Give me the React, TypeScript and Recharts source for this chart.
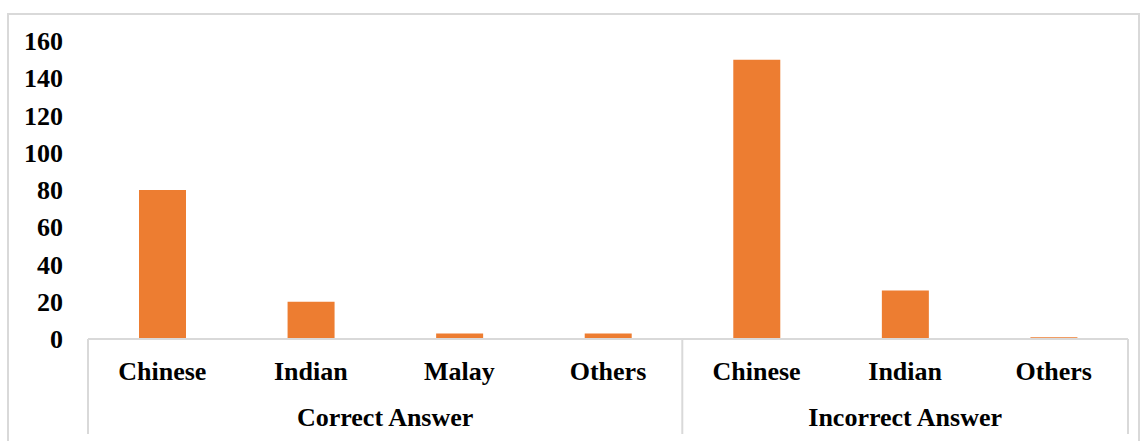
import React from "react";
import { BarChart, Bar, XAxis, YAxis } from "recharts";

const categories = ["Chinese", "Indian", "Malay", "Others", "Chinese", "Indian", "Others"];
const groups = ["Correct Answer", "Correct Answer", "Correct Answer", "Correct Answer", "Incorrect Answer", "Incorrect Answer", "Incorrect Answer"];
const counts = [80, 20, 3, 3, 150, 26, 1];
const yTicks = [0, 20, 40, 60, 80, 100, 120, 140, 160];

const data = categories.map((c, i) => ({ key: `${groups[i]}|${c}|${i}`, name: c, group: groups[i], value: counts[i] }));

const W = 1144;
const H = 441;
const M = { top: 41, right: 16, left: 0, bottom: 0 };
const Y_W = 88;
const X_H = 102;
const FONT = "'Liberation Serif', 'Times New Roman', serif";
const LINE = "#d9d9d9";
const band = (W - Y_W - M.right) / data.length;

const XTick = (props: any) => {
  const { x, y, index } = props;
  const d = data[index];
  if (!d) return null;
  const left = x - band / 2;
  const isFirst = index === 0 || data[index - 1].group !== d.group;
  const isLast = index === data.length - 1;
  const axisY = y - 14;
  const els: React.ReactNode[] = [];
  els.push(
    <text key="c" x={x} y={axisY + 41} textAnchor="middle" fontFamily={FONT} fontWeight="bold" fontSize={26} fill="#000">
      {d.name}
    </text>
  );
  if (isFirst) {
    const n = data.filter((e) => e.group === d.group).length;
    els.push(<line key="l" x1={left} x2={left} y1={axisY} y2={axisY + 95} stroke={LINE} strokeWidth={2} />);
    els.push(
      <text key="g" x={left + (n * band) / 2} y={axisY + 87} textAnchor="middle" fontFamily={FONT} fontWeight="bold" fontSize={26} fill="#000">
        {d.group}
      </text>
    );
  }
  if (isLast) {
    const right = x + band / 2;
    els.push(<line key="r" x1={right} x2={right} y1={axisY} y2={axisY + 95} stroke={LINE} strokeWidth={2} />);
  }
  return <g>{els}</g>;
};

export default function App() {
  return (
    <div style={{ position: "absolute", left: 0, top: 0, width: W, height: H, background: "#fff", overflow: "hidden" }}>
      <div style={{ position: "absolute", left: 7, top: 13, width: 1133, height: 460, border: `2px solid ${LINE}`, boxSizing: "border-box" }} />
      <div style={{ position: "absolute", left: 0, top: 0 }}>
        <BarChart width={W} height={H} data={data} margin={M} barCategoryGap={0}>
          <XAxis
            dataKey="key"
            height={X_H}
            interval={0}
            tickLine={false}
            axisLine={{ stroke: LINE, strokeWidth: 2 }}
            tick={<XTick />}
            tickMargin={8}
          />
          <YAxis
            width={Y_W}
            domain={[0, 160]}
            ticks={yTicks}
            axisLine={false}
            tickLine={false}
            tickMargin={19}
            interval={0}
            tick={{ fontFamily: FONT, fontWeight: "bold", fontSize: 26, fill: "#000" }}
          />
          <Bar dataKey="value" fill="#ED7D31" barSize={47} isAnimationActive={false} />
        </BarChart>
      </div>
    </div>
  );
}
